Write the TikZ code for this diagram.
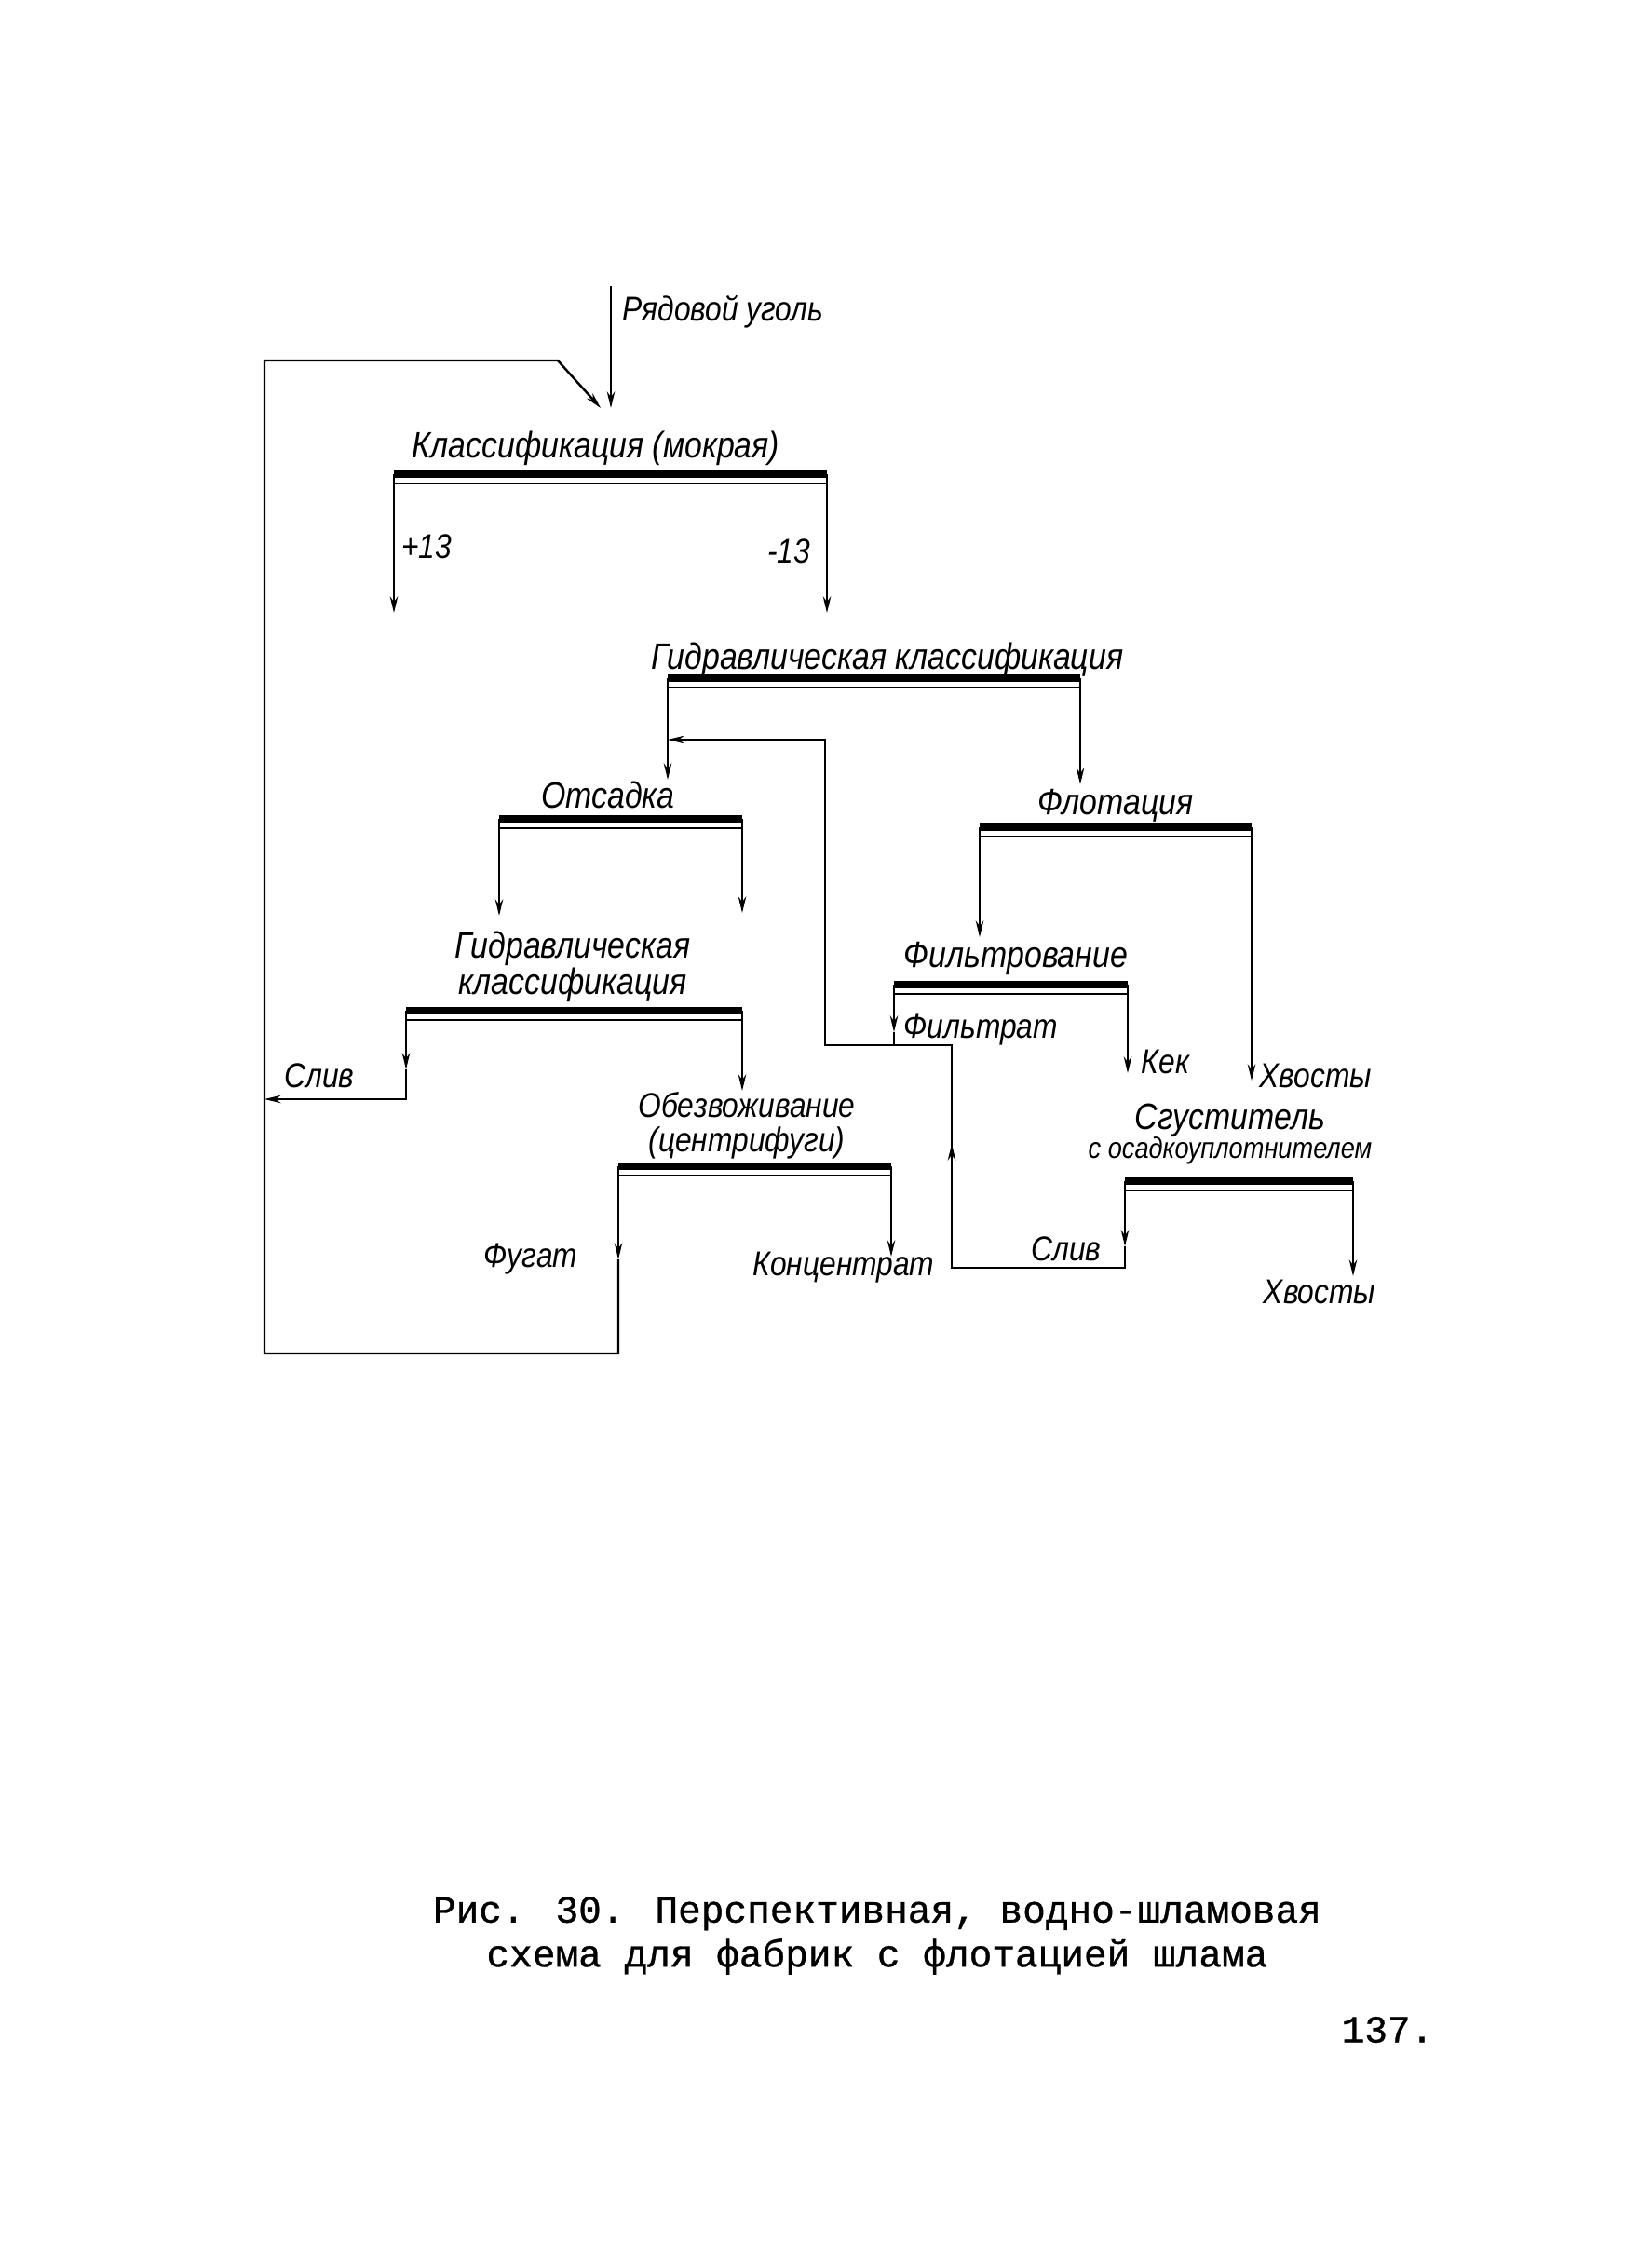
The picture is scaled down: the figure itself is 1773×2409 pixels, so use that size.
\documentclass[tikz,border=0pt]{standalone}
\usepackage{fontspec}
\newfontfamily\handfont[FakeStretch=0.86]{Liberation Sans}
\newfontfamily\typefont[FakeBold=0.8]{Liberation Mono}
\usetikzlibrary{arrows.meta,positioning}

\begin{document}
\begin{tikzpicture}[x=0.1mm,y=-0.1mm,
    flow/.style={line width=0.7pt},
    tip/.style={-{Stealth[length=5pt,width=2.4pt]}},
    sieve/.style={line width=2pt},
    proc/.style={font=\handfont\itshape\fontsize{11.2}{11}\selectfont,inner sep=0pt,align=center},
    prod/.style={font=\handfont\itshape\fontsize{10.5}{12}\selectfont,inner sep=0pt}]
\useasboundingbox (0,0) rectangle (1773,2409);
\fill[white] (0,0) rectangle (1773,2409);

% operations
\node[prod,anchor=west] (raw) at (668,335) {Рядовой уголь};
\node[proc] (kl) at (640,481) {Классификация (мокрая)};
\node[prod] (p13) at (458,587) {+13};
\node[prod] (m13) at (847,592) {-13};
\node[proc] (gk1) at (953,708) {Гидравлическая классификация};
\node[proc] (ots) at (653,853) {Отсадка};
\node[proc] (flot) at (1198,865) {Флотация};
\node[proc] (gk2) at (615,1038) {Гидравлическая\\классификация};
\node[proc] (filt) at (1091,1029) {Фильтрование};
\node[prod,anchor=west] (filtrat) at (970,1106) {Фильтрат};
\node[prod,anchor=west] (kek) at (1225,1140) {Кек};
\node[prod,anchor=west] (hv1) at (1352,1155) {Хвосты};
\node[prod] (sliv1) at (343,1155) {Слив};
\node[proc,font=\handfont\itshape\fontsize{10.5}{10.5}\selectfont] (obez) at (802,1208) {Обезвоживание\\(центрифуги)};
\node[proc] (sg) at (1321,1203) {Сгуститель};
\node[prod,font=\handfont\itshape\fontsize{9}{10}\selectfont] (sg2) at (1321,1235) {с осадкоуплотнителем};
\node[prod] (fugat) at (570,1352) {Фугат};
\node[prod] (konc) at (906,1361) {Концентрат};
\node[prod] (sliv2) at (1145,1341) {Слив};
\node[prod] (hv2) at (1417,1387) {Хвосты};

% screens
\coordinate (kl-a) at (423,509);    \coordinate (kl-b) at (888,509);
\coordinate (gk1-a) at (717,728);   \coordinate (gk1-b) at (1160,728);
\coordinate (ots-a) at (536,879);   \coordinate (ots-b) at (797,879);
\coordinate (flot-a) at (1052,888); \coordinate (flot-b) at (1344,888);
\coordinate (filt-a) at (960,1057); \coordinate (filt-b) at (1211,1057);
\coordinate (gk2-a) at (436,1085);  \coordinate (gk2-b) at (797,1085);
\coordinate (obez-a) at (664,1252); \coordinate (obez-b) at (957,1252);
\coordinate (sg-a) at (1208,1268);  \coordinate (sg-b) at (1453,1268);
\foreach \b in {kl,gk1,ots,flot,filt,gk2,obez,sg} {
  \draw[sieve] (\b-a) -- (\b-b);
  \draw[line width=0.5pt] ([yshift=-2.8pt]\b-a) -- ([yshift=-2.8pt]\b-b);
}

% feed and recycle of fugate
\coordinate (in) at (656,307);
\coordinate (in-e) at (656,438);
\coordinate (rc-e) at (645,438);
\coordinate (rc-k) at (599,387);
\coordinate (rc-tl) at (284,387);
\coordinate (rc-bl) at (284,1453);
\coordinate (fug-m) at (664,1352);
\coordinate (fug-b) at (664,1453);
\draw[flow,tip] (in) -- (in-e);
\draw[flow,tip] (obez-a) -- (fug-m);
\draw[flow,tip] (fug-m) -- (fug-b) -- (rc-bl) -- (rc-tl) -- (rc-k) -- (rc-e);

% classification
\draw[flow,tip] (kl-a) -- (423,658);
\draw[flow,tip] (kl-b) -- (888,658);
\draw[flow,tip] (gk1-a) -- (717,837);
\draw[flow,tip] (gk1-b) -- (1160,842);
\draw[flow,tip] (ots-a) -- (536,983);
\draw[flow,tip] (ots-b) -- (797,980);
\draw[flow,tip] (flot-a) -- (1052,1006);
\draw[flow,tip] (flot-b) -- (1344,1160);
\draw[flow,tip] (filt-b) -- (1211,1152);
\draw[flow,tip] (gk2-b) -- (797,1171);
\draw[flow,tip] (obez-b) -- (957,1349);
\draw[flow,tip] (sg-b) -- (1453,1370);

% overflow of hydraulic classification
\coordinate (sl-m) at (436,1148);
\coordinate (sl-k) at (436,1180);
\draw[flow,tip] (gk2-a) -- (sl-m);
\draw[flow,tip] (sl-m) -- (sl-k) -- (rc-bl |- sl-k);

% filtrate and thickener overflow
\coordinate (ft-m) at (960,1108);
\coordinate (ft-k) at (960,1122);
\coordinate (sv-m) at (1208,1338);
\coordinate (sv-k) at (1208,1361);
\coordinate (sv-l) at (1022,1361);
\coordinate (sv-u) at (1022,1228);
\coordinate (ret-r) at (1022,1122);
\coordinate (ret-l) at (886,1122);
\coordinate (ret-t) at (886,794);
\coordinate (ret-e) at (717,794);
\draw[flow,tip] (filt-a) -- (ft-m);
\draw[flow] (ft-m) -- (ft-k);
\draw[flow,tip] (sg-a) -- (sv-m);
\draw[flow] (sv-m) -- (sv-k) -- (sv-l) -- (sv-u);
\draw[flow,tip] (sv-l) -- (sv-u);
\draw[flow,tip] (sv-u) -- (ret-r) -- (ret-l) -- (ret-t) -- (ret-e);

% caption
\node[font=\typefont\fontsize{11.7}{13.5}\selectfont,align=center] (cap) at (942,2078)
  {Рис. 30. Перспективная, водно-шламовая\\схема для фабрик с флотацией шлама};
\node[font=\typefont\fontsize{11.7}{13.5}\selectfont] (page) at (1490,2179) {137.};
\end{tikzpicture}
\end{document}
